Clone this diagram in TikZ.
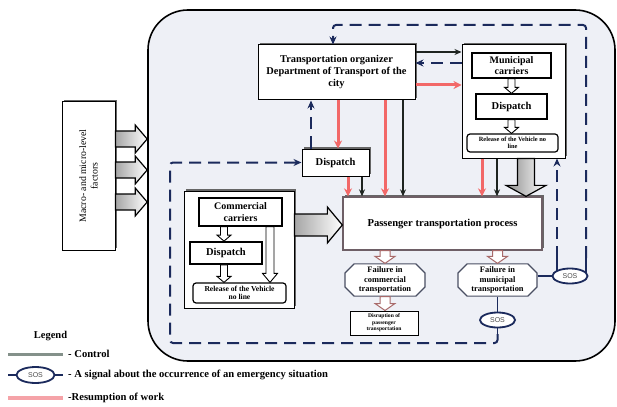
\documentclass[tikz,border=0pt]{standalone}
\usepackage{fontspec}
\setmainfont{Liberation Serif}
\newfontfamily\sosfont{Liberation Sans}
\usetikzlibrary{calc,arrows.meta,shapes.geometric,shapes.misc,shadows}
\definecolor{navy}{HTML}{1B2A5C}
\definecolor{redc}{HTML}{F26868}
\definecolor{ctrlc}{HTML}{1E2420}
\definecolor{ctrlgray}{HTML}{84918A}
\definecolor{pinkleg}{HTML}{F5A3A8}
\definecolor{contfill}{HTML}{EEF0F6}
\definecolor{holc}{HTML}{A86A6A}
\definecolor{failc}{HTML}{4A4F63}
\definecolor{pborder}{HTML}{6E5F66}
\newcommand\blockarrow[6]{%
  \path[#1] let \p1=#2, \p2=#3, \n1={atan2(\y2-\y1,\x2-\x1)} in
  ($(\p1)+(\n1+90:#4)$) -- ($(\p2)+(\n1+180:#6)+(\n1+90:#4)$) --
  ($(\p2)+(\n1+180:#6)+(\n1+90:#5)$) -- (\p2) --
  ($(\p2)+(\n1+180:#6)+(\n1-90:#5)$) -- ($(\p2)+(\n1+180:#6)+(\n1-90:#4)$) --
  ($(\p1)+(\n1-90:#4)$) -- cycle;}
\begin{document}
\begin{tikzpicture}[x=1pt,y=-1pt,
  box/.style={draw=black, line width=1pt, fill=white, align=center, inner sep=0.5pt,
    font=\bfseries\fontsize{10}{11.5}\selectfont},
  shbox/.style={box, drop shadow={shadow xshift=2pt,shadow yshift=2pt,fill=black!60,opacity=1}},
  inbox/.style={box, line width=1.3pt},
  relbox/.style={box, line width=1.2pt, rounded corners=3pt},
  failbox/.style={chamfered rectangle, chamfered rectangle xsep=6pt, draw=failc, line width=1.1pt,
    fill=white, align=center, inner sep=0pt, font=\bfseries\fontsize{8.4}{9.2}\selectfont},
  sos/.style={ellipse, draw=navy, line width=1.8pt, fill=white, minimum width=35pt, minimum height=15pt,
    inner sep=0pt, font=\sosfont\fontsize{7}{7}\selectfont, text=black!70},
  ctrl/.style={draw=ctrlc, line width=1.3pt, -{Stealth[length=7pt,width=6pt]}},
  redl/.style={draw=redc, line width=3pt, -{Stealth[length=8pt,width=8pt]}},
  navd/.style={draw=navy, line width=2pt, dash pattern=on 12pt off 7pt, -{Stealth[length=8pt,width=7pt]}},
  navs/.style={draw=navy, line width=1.8pt},
  hol/.style={draw=holc, line width=1pt, fill=white},
  hols/.style={draw=black, line width=0.9pt, fill=white},
  bigb/.style={draw=black, line width=1.2pt, left color=black!35, right color=white},
  bigv/.style={draw=black, line width=1.2pt, left color=black!45, right color=white},
  legtext/.style={anchor=west, inner sep=0pt, font=\bfseries\fontsize{10.6}{12}\selectfont}
]
\useasboundingbox (0,0) rectangle (617,406);
\fill[white] (0,0) rectangle (617,406);
% container
\node[draw=black, line width=1.6pt, fill=contfill, rounded corners=40pt,
  minimum width=467pt, minimum height=351pt, inner sep=0pt] (cont) at (381.5,185.5) {};
% macro box
\node[shbox, minimum width=53pt, minimum height=148pt] (M) at (88.5,176) {};
\node[rotate=90, align=center, inner sep=0pt, font=\fontsize{9.8}{11.5}\selectfont] (Mt) at (M.center)
  {Macro- and micro-level\\factors};
% main nodes
\node[shbox, minimum width=157pt, minimum height=55pt, font=\bfseries\fontsize{10.4}{12}\selectfont] (TO) at (336.5,72.5)
  {Transportation organizer\\Department of Transport of the\\city};
\node[shbox, minimum width=103pt, minimum height=113pt] (Mun) at (513.5,101.5) {};
\node[inbox, minimum width=79pt, minimum height=25pt] (MC) at (511.5,65.5) {Municipal\\carriers};
\node[inbox, minimum width=71pt, minimum height=25pt, font=\bfseries\fontsize{10.5}{12}\selectfont] (MD) at (511.5,106.5) {Dispatch};
\node[relbox, minimum width=91pt, minimum height=18pt, font=\bfseries\fontsize{6.4}{7.2}\selectfont] (MR) at (512.5,143)
  {Release of the Vehicle no\\line};
\node[shbox, minimum width=67pt, minimum height=27pt, font=\bfseries\fontsize{10.5}{12}\selectfont] (D) at (335.5,162.5) {Dispatch};
\node[shbox, minimum width=110pt, minimum height=117pt] (Com) at (239,249.5) {};
\node[inbox, minimum width=83pt, minimum height=28pt] (CC) at (240.5,212) {Commercial\\carriers};
\node[inbox, line width=1.8pt, minimum width=72pt, minimum height=22pt, font=\bfseries\fontsize{10.5}{12}\selectfont] (CD) at (226,253) {Dispatch};
\node[relbox, minimum width=93pt, minimum height=20pt, font=\bfseries\fontsize{7.6}{8.4}\selectfont] (CR) at (239.5,293)
  {Release of the Vehicle\\no line};
\node[shbox, draw=pborder, line width=1.3pt, minimum width=199pt, minimum height=53pt,
  font=\bfseries\fontsize{10.6}{12}\selectfont] (P) at (442.5,223.5) {Passenger transportation process};
\node[failbox, minimum width=80pt, minimum height=30pt] (FC) at (385,280) {Failure in\\commercial\\transportation};
\node[failbox, minimum width=79pt, minimum height=30pt] (FM) at (497.5,280) {Failure in\\municipal\\transportation};
\node[box, minimum width=68pt, minimum height=24pt, font=\bfseries\fontsize{5.6}{6.6}\selectfont] (Dis) at (384,323)
  {Disruption of\\passenger\\transportation};
% macro arrows
\foreach \yy in {139,170,202}{
  \blockarrow{bigb}{(M.east |- 0,\yy)}{(cont.west |- 0,\yy)}{8pt}{14pt}{12pt}
}
% control / red / navy between TO and Mun
\draw[ctrl] (TO.east |- 0,52) -- (Mun.west |- 0,52);
\draw[navd] (Mun.west |- 0,63) -- (TO.east |- 0,63);
\draw[redl] (TO.east |- 0,85) -- (Mun.west |- 0,85);
% downward arrows
\draw[redl] (TO.south -| 338,0) -- (D.north -| 338,0);
\draw[redl] (TO.south -| 385,0) -- (P.north -| 385,0);
\draw[ctrl] (TO.south -| 403,0) -- (P.north -| 403,0);
\draw[redl] (D.south -| 348,0) -- (P.north -| 348,0);
\draw[ctrl] (D.south -| 362,0) -- (P.north -| 362,0);
\draw[redl] (Mun.south -| 482,0) -- (P.north -| 482,0);
\draw[ctrl] (Mun.south -| 497,0) -- (P.north -| 497,0);
\draw[navd] (D.north -| 311,0) -- (TO.south -| 311,0);
% block arrows
\blockarrow{hols}{(MC.south)}{(MD.north)}{3.5pt}{7pt}{6pt}
\blockarrow{hols}{(MD.south)}{(MR.north -| MD.south)}{3.5pt}{7pt}{6pt}
\blockarrow{hols}{(CC.south -| 224,0)}{(CD.north -| 224,0)}{3.5pt}{7pt}{6pt}
\blockarrow{hols}{(CD.south -| 224,0)}{(CR.north -| 224,0)}{3.5pt}{7pt}{6pt}
\blockarrow{hols}{(CC.south -| 270,0)}{(CR.north -| 270,0)}{4pt}{7.5pt}{9pt}
\blockarrow{bigb}{(Com.east |- 0,225)}{(P.west |- 0,225)}{11pt}{18pt}{15pt}
\blockarrow{bigv}{(Mun.south -| 526,0)}{(P.north -| 526,0)}{8.5pt}{20pt}{11pt}
\blockarrow{hol}{(FC.north |- P.south)}{(FC.north)}{5pt}{10pt}{7pt}
\blockarrow{hol}{(FM.north |- P.south)}{(FM.north)}{5pt}{10pt}{7pt}
\blockarrow{hol}{(FC.south)}{(Dis.north -| FC.south)}{5pt}{10pt}{7pt}
% SOS
\node[sos] (S1) at (570,276) {SOS};
\node[sos] (S2) at (497.5,320) {SOS};
\draw[navs] (FM.east |- S1.west) -- (S1.west);
\coordinate (s1a) at (557,258);
\coordinate (s1b) at (586,258);
\coordinate (tr) at (586,25);
\coordinate (tl) at (333,25);
\draw[navs] ($(S1.center)+(-13,-5)$) -- (s1a);
\draw[navs] ($(S1.center)+(16,-3)$) -- (s1b);
\draw[navd] (s1a) -- (s1a |- Mun.south);
\draw[navd, rounded corners=3pt] (s1b) -- (tr) -- (tl) -- (tl |- TO.north);
\draw[navs] (FM.south) -- (S2.north);
\coordinate (b0) at (497.5,334);
\coordinate (b1) at (497.5,343);
\coordinate (b2) at (170,343);
\draw[navs] (S2.south) -- (b0);
\draw[navd, rounded corners=3pt] (b0) -- (b1) -- (b2) -- (b2 |- D.west) -- (D.west);
% legend
\node[inner sep=0pt, font=\bfseries\fontsize{10.5}{12}\selectfont] (legt) at (50.5,336) {Legend};
\coordinate (lc1) at (8,354); \coordinate (lc2) at (63,354);
\draw[line width=3pt, ctrlgray] (lc1) -- (lc2);
\node[legtext] (legc) at (68,354) {- Control};
\coordinate (ls1) at (8,375); \coordinate (ls2) at (63,375);
\draw[navs] (ls1) -- (ls2);
\node[sos, minimum width=38pt, minimum height=16pt] (Sl) at (35.5,375) {SOS};
\node[legtext] (legs) at (68,375) {- A signal about the occurrence of an emergency situation};
\coordinate (lr1) at (8,398); \coordinate (lr2) at (63,398);
\draw[line width=4pt, pinkleg] (lr1) -- (lr2);
\node[legtext] (legr) at (68,398) {-Resumption of work};
\end{tikzpicture}
\end{document}
